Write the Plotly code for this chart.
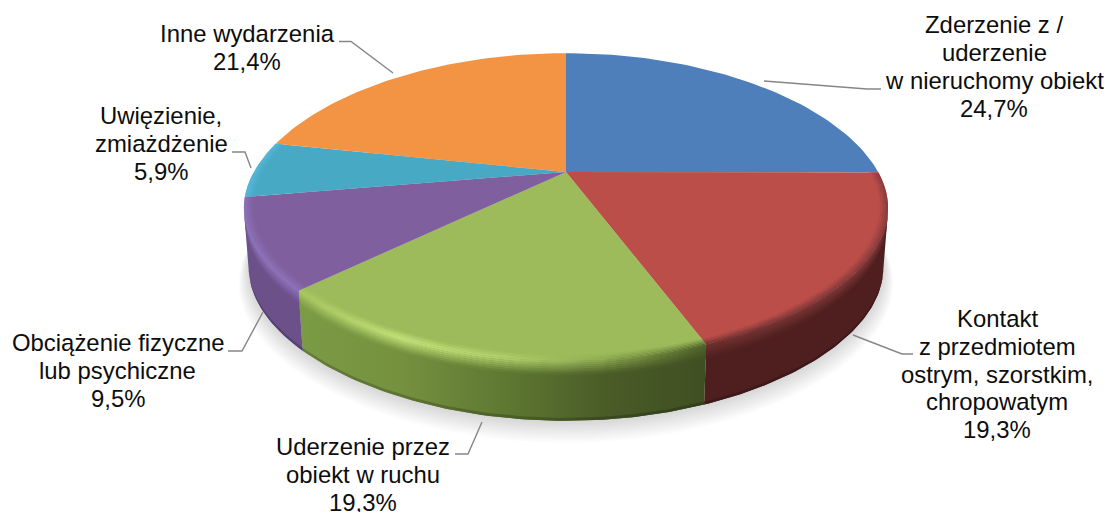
import math
import plotly.graph_objects as go

# ---- data ----
label_lines = [
    ["Zderzenie z /", "uderzenie", "w nieruchomy obiekt"],
    ["Kontakt", "z przedmiotem", "ostrym, szorstkim,", "chropowatym"],
    ["Uderzenie przez", "obiekt w ruchu"],
    ["Obciążenie fizyczne", "lub psychiczne"],
    ["Uwięzienie,", "zmiażdżenie"],
    ["Inne wydarzenia"],
]
values = [24.7, 19.3, 19.3, 9.5, 5.9, 21.4]

# ---- style ----
top_colors = ["#4E7FBB", "#BC4E4A", "#9DBB5A", "#7F5F9D", "#48A9C5", "#F29443"]
rim_colors = [
    ["#3A5F8C"],
    ["#4F1F1F", "#4F1F1F"],
    ["#7C9B45", "#75913F", "#5F7932", "#4A5C28", "#3F4F22"],
    ["#6B5089", "#6B5089"],
    ["#3A8CA5"],
    ["#C87A35"],
]
peak_colors = [
    None,
    ["#6E302E", "#86393A"],
    ["#A8C660", "#C6E67B", "#B4D26C", "#8CA94F", "#4F6329"],
    ["#8F72BC", "#8F72BC"],
    ["#58B9DD", "#58B9DD"],
    None,
]
CX, CY, SX, SY, PERSP, DEPTH = 566, 172, 314, 147, 0.237, 60
LEFT_SIL, RIGHT_SIL = 256.3, 103.7

# anchor x, first baseline y, line pitch per label
label_pos = [(994, 33, 28), (997, 327, 27.6), (363, 455, 27.6),
             (117.5, 351, 27.6), (161, 124, 27.6), (247, 42, 27.6)]
leaders = [
    [(764, 81), (867, 89), (881, 89)],
    [(853, 335), (902, 354), (913, 354)],
    [(455, 454), (468, 454), (482, 422)],
    [(228, 351), (242, 351), (263, 312)],
    [(232, 152), (245, 152), (251, 168)],
    [(339, 41.5), (351, 41.5), (393, 73)],
]
FONT = 23.9


def proj(r, th, z=0.0):
    t = math.radians(th)
    X, Y = r * math.sin(t), r * math.cos(t)
    d = 1 + PERSP * Y
    front = max(0.0, -Y) ** 2
    sx = SX * (1 - 0.07 * front) * (1 - 0.00025 * z)
    sy = SY * (1 - 0.02 * front)
    return CX + sx * X / d, CY - sy * Y / d + 3.5 * X * X + z


def arc(r, a, b, z=0.0, n=60):
    pts = [proj(r, a + (b - a) * i / n, z) for i in range(n + 1)]
    return [p[0] for p in pts], [p[1] for p in pts]


def rgb(h):
    return tuple(int(h[i:i + 2], 16) for i in (1, 3, 5))


def mix(a, b, w):
    ca, cb = rgb(a), rgb(b)
    return "#%02x%02x%02x" % tuple(round(ca[i] + (cb[i] - ca[i]) * w) for i in range(3))


def scale(cols):
    if len(cols) == 1:
        cols = cols * 2
    return [[i / (len(cols) - 1), c] for i, c in enumerate(cols)]


fig = go.Figure()


def poly(xs, ys, color=None, cols=None):
    kw = dict(x=xs, y=ys, mode="lines", fill="toself", hoverinfo="skip",
              showlegend=False, line=dict(width=0))
    if cols:
        kw["fillgradient"] = dict(type="horizontal", colorscale=scale(cols))
    else:
        kw["fillcolor"] = color
    fig.add_trace(go.Scatter(**kw))


def band(a, b, r0, z0, r1, z1, cols):
    x0, y0 = arc(r0, a, b, z0)
    x1, y1 = arc(r1, a, b, z1)
    poly(x0 + x1[::-1], y0 + y1[::-1], cols=cols)


total = sum(values)
edges = [0.0]
for v in values:
    edges.append(edges[-1] + 360 * v / total)

# soft ground shadow
for k in range(10):
    grow = 0.002 + 0.0035 * k
    xs, ys = arc(1 + grow, 0, 360, DEPTH + 1 + 1.4 * k, n=180)
    poly(xs, ys, color="rgba(0,0,0,0.015)")

# side wall
for i in range(6):
    a, b = max(edges[i], RIGHT_SIL), min(edges[i + 1], LEFT_SIL)
    if b <= a:
        continue
    band(a, b, 1, 0, 1, DEPTH, rim_colors[i])
    dark = [mix(c, "#000000", 0.2) for c in rim_colors[i]]
    band(a, b, 1, DEPTH - 3, 1, DEPTH, dark)

# top face
for i in range(6):
    xs, ys = arc(1, edges[i], edges[i + 1])
    poly([CX] + xs + [CX], [CY] + ys + [CY], color=top_colors[i])

# rounded bevel between the top face and the wall
N_IN, N_OUT = 5, 7
for i in range(6):
    if not peak_colors[i]:
        continue
    a, b = edges[i], edges[i + 1]
    for s in range(N_IN):
        w = (s + 0.5) / N_IN
        r0, r1 = 0.972 + 0.028 * s / N_IN, 0.972 + 0.028 * (s + 1) / N_IN
        cols = [mix(top_colors[i], p, w) for p in peak_colors[i]]
        band(a, b, r0, 0, r1, 0, cols)
    a2, b2 = max(a, RIGHT_SIL), min(b, LEFT_SIL)
    if b2 <= a2:
        continue
    for s in range(N_OUT):
        w = (s + 0.5) / N_OUT
        z0, z1 = 14 * s / N_OUT, 14 * (s + 1) / N_OUT + 0.4
        cols = [mix(p, rim_colors[i][min(j, len(rim_colors[i]) - 1)], w)
                for j, p in enumerate(peak_colors[i])]
        band(a2, b2, 1, z0, 1, z1, cols)

# leader lines
for pts in leaders:
    fig.add_trace(go.Scatter(x=[p[0] for p in pts], y=[p[1] for p in pts], mode="lines",
                             hoverinfo="skip", showlegend=False,
                             line=dict(color="#868686", width=1.4)))

# labels: one text per line, to keep the tight line pitch of the original
for lines, v, (x, base, pitch) in zip(label_lines, values, label_pos):
    for j, t in enumerate(lines + [f"{v:.1f}%".replace(".", ",")]):
        fig.add_annotation(x=x, y=base + j * pitch - 0.34 * FONT, text=t, showarrow=False,
                           xanchor="center", yanchor="middle", xref="x", yref="y",
                           font=dict(family="Liberation Sans", size=FONT, color="#0d0d0d"))

fig.update_layout(
    width=1109, height=512, margin=dict(l=0, r=0, t=0, b=0),
    paper_bgcolor="white", plot_bgcolor="white", showlegend=False,
    xaxis=dict(range=[0, 1109], visible=False, fixedrange=True),
    yaxis=dict(range=[512, 0], visible=False, fixedrange=True),
)
fig.write_html("out.html", config={"displayModeBar": False},
               post_script="document.body.style.margin='0';document.body.style.overflow='hidden';")
